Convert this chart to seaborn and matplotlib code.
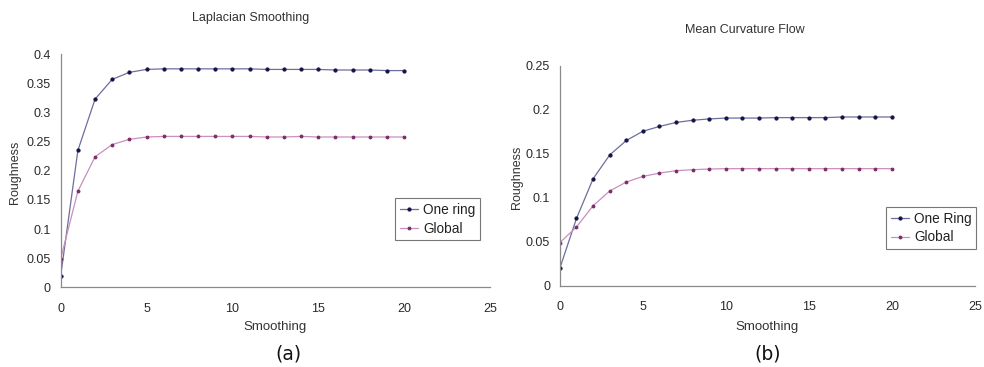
import numpy as np
import pandas as pd
import seaborn as sns
import matplotlib.pyplot as plt

# datos
pasos = list(range(21))

lap_one_ring = [0.020, 0.235, 0.323, 0.357, 0.369, 0.374, 0.375, 0.375, 0.375, 0.375, 0.375,
                0.375, 0.374, 0.374, 0.374, 0.374, 0.373, 0.373, 0.373, 0.372, 0.372]
lap_global = [0.049, 0.165, 0.224, 0.245, 0.254, 0.258, 0.259, 0.259, 0.259, 0.259, 0.259,
              0.259, 0.258, 0.258, 0.259, 0.258, 0.258, 0.258, 0.258, 0.258, 0.258]

mcf_one_ring = [0.020, 0.0765, 0.1215, 0.1485, 0.165, 0.1755, 0.181, 0.1855, 0.188, 0.1895, 0.1905,
                0.1905, 0.1905, 0.191, 0.191, 0.191, 0.191, 0.1917, 0.1917, 0.1917, 0.1917]
mcf_global = [0.049, 0.0667, 0.0909, 0.1076, 0.1178, 0.1242, 0.128, 0.1307, 0.1318, 0.1326, 0.133,
              0.133, 0.133, 0.133, 0.133, 0.133, 0.133, 0.133, 0.133, 0.133, 0.133]

sns.set_style("white")
plt.rcParams['font.family'] = ['Liberation Sans', 'DejaVu Sans']

fig = plt.figure(figsize=(9.84, 3.67), dpi=100)
ax1 = fig.add_axes([0.0617, 0.2172, 0.4363, 0.6349])
ax2 = fig.add_axes([0.569, 0.2215, 0.4217, 0.5995])

def dibujar(ax, one, glob, etiqueta_one, ymax, yticks, leg_pos):
    sns.lineplot(x=pasos, y=one, ax=ax, color='#6e6e9c', linewidth=0.9, marker='o',
                 markersize=2.3, markerfacecolor='#14144a', markeredgecolor='#14144a',
                 label=etiqueta_one)
    sns.lineplot(x=pasos, y=glob, ax=ax, color='#c890bc', linewidth=0.9, marker='o',
                 markersize=2.0, markerfacecolor='#7a2a66', markeredgecolor='#7a2a66',
                 label='Global')
    ax.set_xlim(0, 25)
    ax.set_ylim(0, ymax)
    ax.set_xticks([0, 5, 10, 15, 20, 25])
    ax.set_yticks(yticks)
    ax.set_yticklabels([('%g' % t) for t in yticks])
    for s in ['top', 'right']:
        ax.spines[s].set_visible(False)
    for s in ['left', 'bottom']:
        ax.spines[s].set_color('#8a8a8a')
        ax.spines[s].set_linewidth(0.9)
    ax.tick_params(axis='both', which='both', direction='out', length=3, width=0.8,
                   color='#8a8a8a', labelsize=9, labelcolor='#2a2a2a', pad=4)
    ax.tick_params(axis='x', pad=8)
    ax.set_xlabel('')
    ax.set_ylabel('')
    leg = ax.legend(loc='upper left', bbox_to_anchor=leg_pos, borderaxespad=0,
                    fontsize=9.8, handlelength=1.3, handletextpad=0.4, labelspacing=0.35,
                    frameon=True, fancybox=False, borderpad=0.35)
    leg.get_frame().set_edgecolor('#555555')
    leg.get_frame().set_linewidth(0.8)
    for t in leg.get_texts():
        t.set_color('#222222')

dibujar(ax1, lap_one_ring, lap_global, 'One ring', 0.4,
        [0, 0.05, 0.1, 0.15, 0.2, 0.25, 0.3, 0.35, 0.4], (0.779, 0.383))
dibujar(ax2, mcf_one_ring, mcf_global, 'One Ring', 0.25,
        [0, 0.05, 0.1, 0.15, 0.2, 0.25], (0.786, 0.358))

fig.text(0.255, 0.951, 'Laplacian Smoothing', ha='center', va='center', fontsize=9, color='#333333')
fig.text(0.757, 0.918, 'Mean Curvature Flow', ha='center', va='center', fontsize=9, color='#333333')

fig.text(0.0152, 0.531, 'Roughness', rotation=90, ha='center', va='center', fontsize=9, color='#333333')
fig.text(0.525, 0.518, 'Roughness', rotation=90, ha='center', va='center', fontsize=9, color='#333333')
fig.text(0.2795, 0.109, 'Smoothing', ha='center', va='center', fontsize=9.5, color='#333333')
fig.text(0.780, 0.109, 'Smoothing', ha='center', va='center', fontsize=9.5, color='#333333')

fig.text(0.293, 0.035, '(a)', ha='center', va='center', fontsize=13.5, family='DejaVu Sans', color='#111111')
fig.text(0.780, 0.035, '(b)', ha='center', va='center', fontsize=13.5, family='DejaVu Sans', color='#111111')

fig.savefig('out.png', dpi=100)
